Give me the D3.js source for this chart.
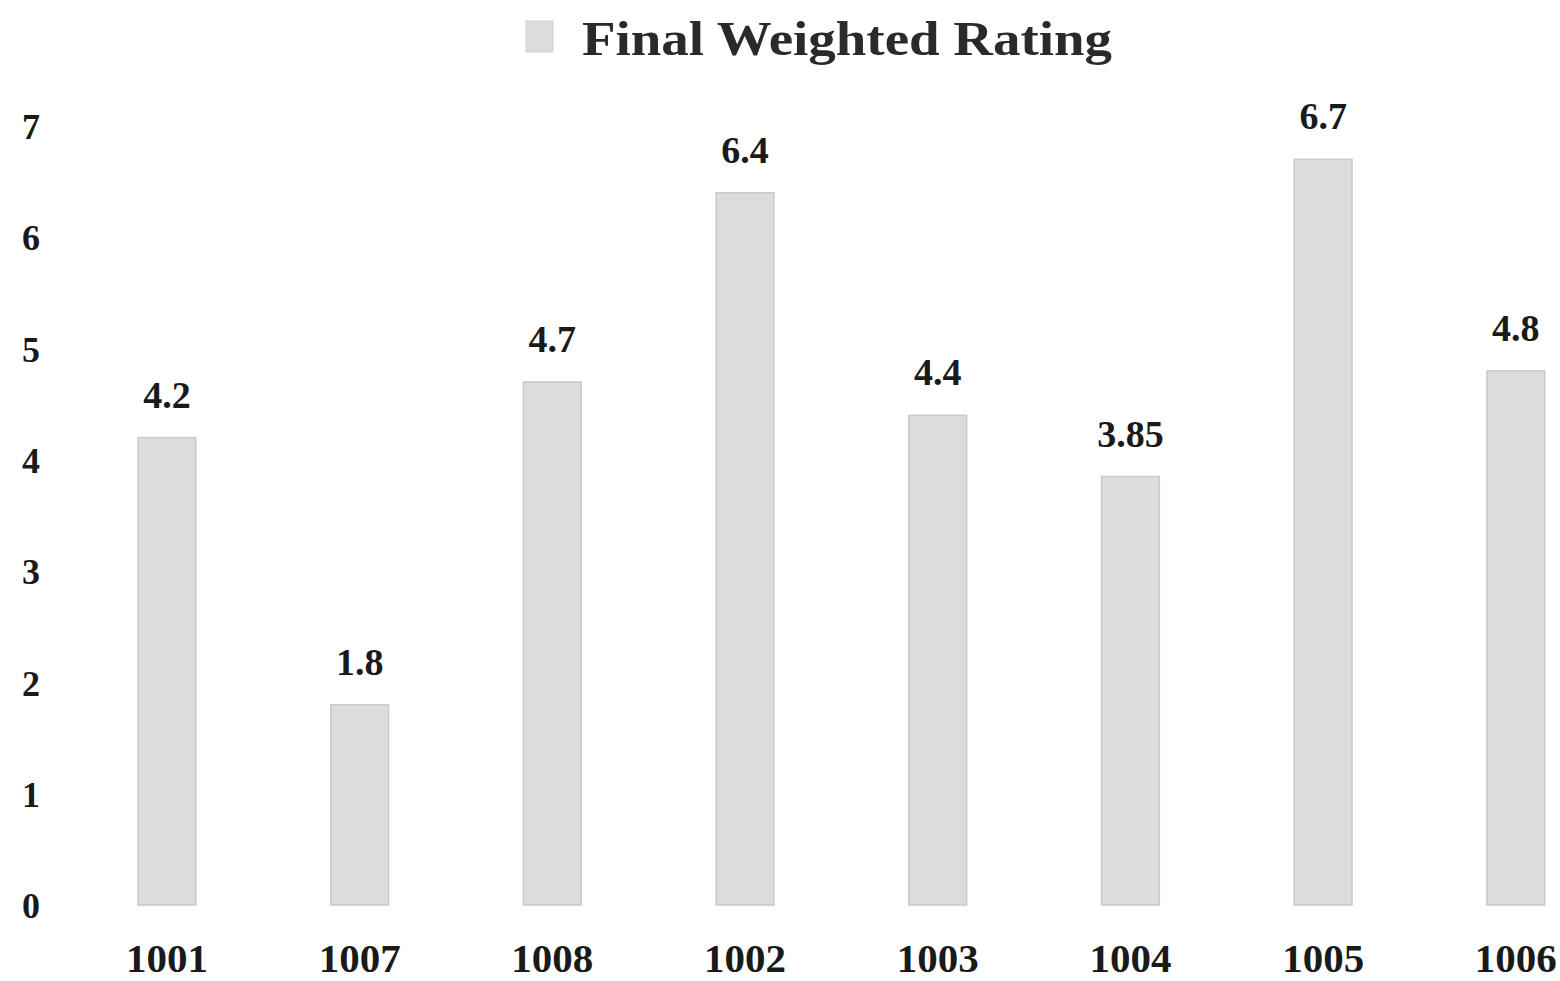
<!doctype html>
<html>
<head>
    <title>Final Weighted Rating</title>
    <meta charset="utf-8">
    <style>
        body { margin: 0; background: #fff; }
        svg { display: block; font-family: "Liberation Serif", "Times New Roman", serif; }
        .bar { fill: #dcdcdc; stroke: #c9c9c9; stroke-width: 1.5; }
        .axis path, .axis line { display: none; }
        .axis text { font-family: "Liberation Serif", serif; font-weight: bold; fill: #1a1a1a; }
    </style>
    <script src="https://d3js.org/d3.v7.min.js"></script>
</head>
<body>
    <svg width="1560" height="981"></svg>
    <script>
        // data
        var categories = ["1001", "1007", "1008", "1002", "1003", "1004", "1005", "1006"];
        var ratings = [4.2, 1.8, 4.7, 6.4, 4.4, 3.85, 6.7, 4.8];
        var labels = ["4.2", "1.8", "4.7", "6.4", "4.4", "3.85", "6.7", "4.8"];
        var yTicks = [0, 1, 2, 3, 4, 5, 6, 7];
        var seriesName = "Final Weighted Rating";

        var svg = d3.select("svg");

        var data = categories.map(function(c, i) {
            return { name: c, value: ratings[i], label: labels[i] };
        });

        var xScale = d3.scaleBand().domain(categories).range([70.6, 1612.2]).paddingInner(0.7).paddingOuter(0.35),
            yScale = d3.scaleLinear().domain([0, 7]).range([905, 126]);

        // y axis (labels only)
        svg.append("g")
            .attr("class", "axis")
            .attr("transform", "translate(42,0)")
            .call(d3.axisLeft(yScale).tickValues(yTicks).tickFormat(d3.format("d")).tickSize(0).tickPadding(0))
            .selectAll("text")
            .attr("text-anchor", "middle")
            .attr("x", -11)
            .attr("dy", "0.35em")
            .style("font-size", "36px");

        // x axis (labels only)
        svg.append("g")
            .attr("class", "axis")
            .attr("transform", "translate(0,943)")
            .call(d3.axisBottom(xScale).tickSize(0).tickPadding(0))
            .selectAll("text")
            .attr("dy", "0.71em")
            .style("font-size", "41px");

        // bars
        svg.selectAll(".bar")
            .data(data)
            .enter().append("rect")
            .attr("class", "bar")
            .attr("x", function(d) { return xScale(d.name); })
            .attr("y", function(d) { return yScale(d.value); })
            .attr("width", xScale.bandwidth())
            .attr("height", function(d) { return yScale(0) - yScale(d.value); });

        // value labels
        svg.selectAll(".val")
            .data(data)
            .enter().append("text")
            .attr("class", "val")
            .attr("x", function(d) { return xScale(d.name) + xScale.bandwidth() / 2; })
            .attr("y", function(d) { return yScale(d.value) - 30; })
            .attr("text-anchor", "middle")
            .style("font-size", "38px")
            .style("font-weight", "bold")
            .style("fill", "#1a1a1a")
            .text(function(d) { return d.label; });

        // legend
        var legend = svg.append("g").attr("transform", "translate(526,21)");
        legend.append("rect")
            .attr("width", 27).attr("height", 31)
            .attr("fill", "#dcdcdc").attr("stroke", "#cfcfcf");
        legend.append("text")
            .attr("x", 56).attr("y", 34)
            .attr("textLength", 530)
            .attr("lengthAdjust", "spacingAndGlyphs")
            .style("font-size", "48px")
            .style("font-weight", "bold")
            .style("fill", "#2a2a2a")
            .text(seriesName);
    </script>
</body>
</html>
